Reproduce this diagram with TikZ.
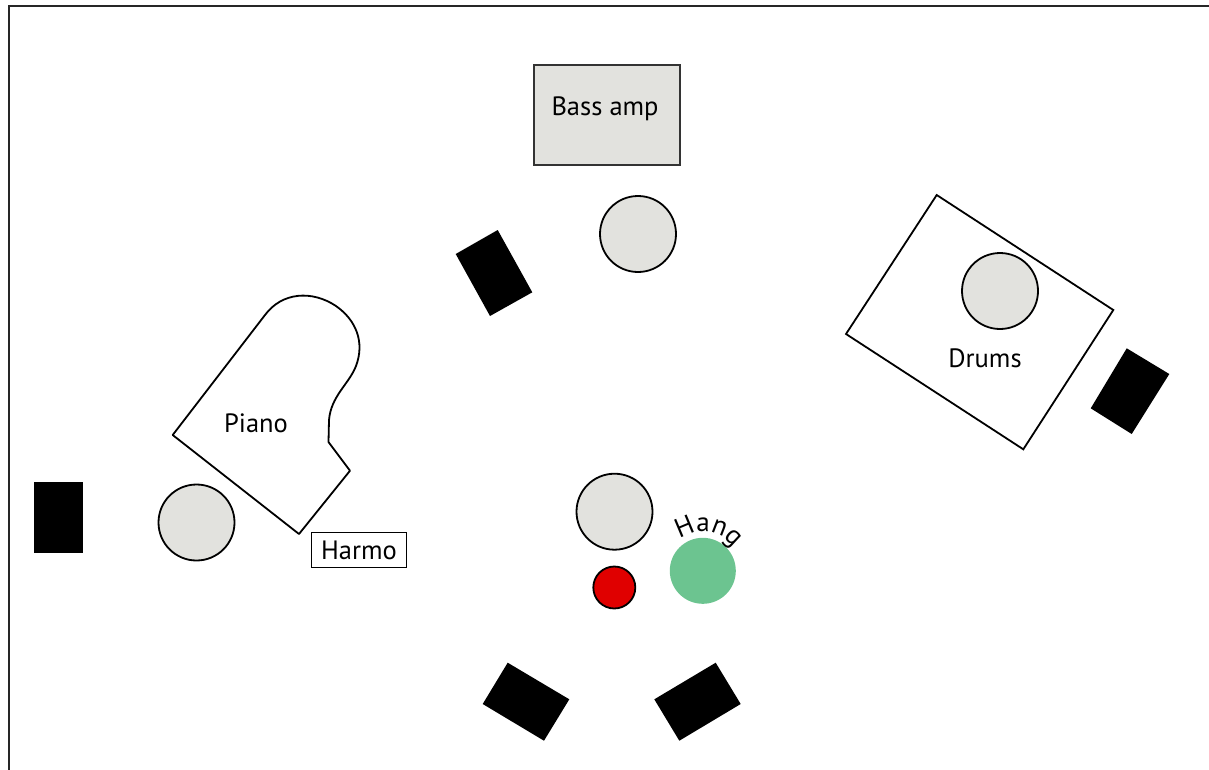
\documentclass[tikz,border=0pt]{standalone}
\usepackage{fontspec}
\setmainfont{PT Sans}
\usetikzlibrary{decorations.text}
\definecolor{seatgray}{HTML}{E2E2DE}
\definecolor{hanggreen}{HTML}{6CC490}
\definecolor{redmic}{HTML}{E00000}
\begin{document}
\begin{tikzpicture}[x=1pt,y=-1pt,
  seatc/.style={circle,draw=black,fill=seatgray,line width=1.8pt,minimum size=76pt,inner sep=0pt},
  spk/.style={fill=black},
  lbl/.style={font=\fontsize{26.5}{30}\selectfont,inner sep=0pt},
  outline/.style={draw=black,line width=1.8pt,line join=miter}]
\useasboundingbox (0,0) rectangle (1209,769);
% frame
\draw[line width=2.5pt,color=black!85] (9,775) -- (9,6) -- (1215,6);

% bass amp
\node[draw=black!80,fill=seatgray,line width=2pt,minimum width=146pt,minimum height=100pt,inner sep=0pt] (bassamp) at (606.5,114.5) {};
\node[lbl] (basslbl) at (605,109) {Bass amp};
\node[seatc] (bassseat) at (638,234) {};
\fill[spk] (455.7,254) -- (497.7,230) -- (532.3,292.3) -- (490,316) -- cycle;

% drums
\draw[outline] (936.7,195) -- (1113.3,310) -- (1023.3,449.3) -- (846,334) -- cycle;
\node[seatc] (drumseat) at (1000,291) {};
\node[lbl] (drumlbl) at (985,358) {Drums};
\fill[spk] (1126.7,348.3) -- (1169.3,374) -- (1131.7,434) -- (1090.7,408.3) -- cycle;

% piano
\draw[outline,line join=round] (172.7,435) -- (265,315)
  .. controls (282,292) and (312,290) .. (336,306)
  .. controls (356,320) and (365,342) .. (356,366)
  .. controls (349,384) and (331,396) .. (329,420)
  -- (328.5,442) -- (350,470.7) -- (299,534) -- cycle;
\node[lbl] (pianolbl) at (256,423) {Piano};
\node[seatc] (pianoseat) at (196.5,522.5) {};
\node[draw=black,line width=1.8pt,minimum width=95pt,minimum height=35pt,inner sep=0pt] (harmo) at (359,550) {};
\node[lbl] (harmolbl) at (359,550) {Harmo};
\fill[spk] (34,482) rectangle (83,553);

% centre
\node[seatc] (centreseat) at (614.5,511.7) {};
\node[circle,draw=black,fill=redmic,line width=1.8pt,minimum size=42pt,inner sep=0pt] (redmic) at (614.3,587.5) {};
\node[circle,fill=hanggreen,minimum size=66pt,inner sep=0pt] (hang) at (702.8,570.8) {};
\path[decorate,decoration={text along path,text={|\fontsize{27}{30}\selectfont|Hang},text align=fit to path}]
  (hang.center) ++(234:39) arc (234:322:39);

% bottom speakers
\fill[spk] (507.7,662.7) -- (569.3,699.3) -- (544,740.7) -- (482.7,704) -- cycle;
\fill[spk] (715.7,662.7) -- (740.7,704) -- (679.3,740.7) -- (654.3,699.3) -- cycle;
\end{tikzpicture}
\end{document}
